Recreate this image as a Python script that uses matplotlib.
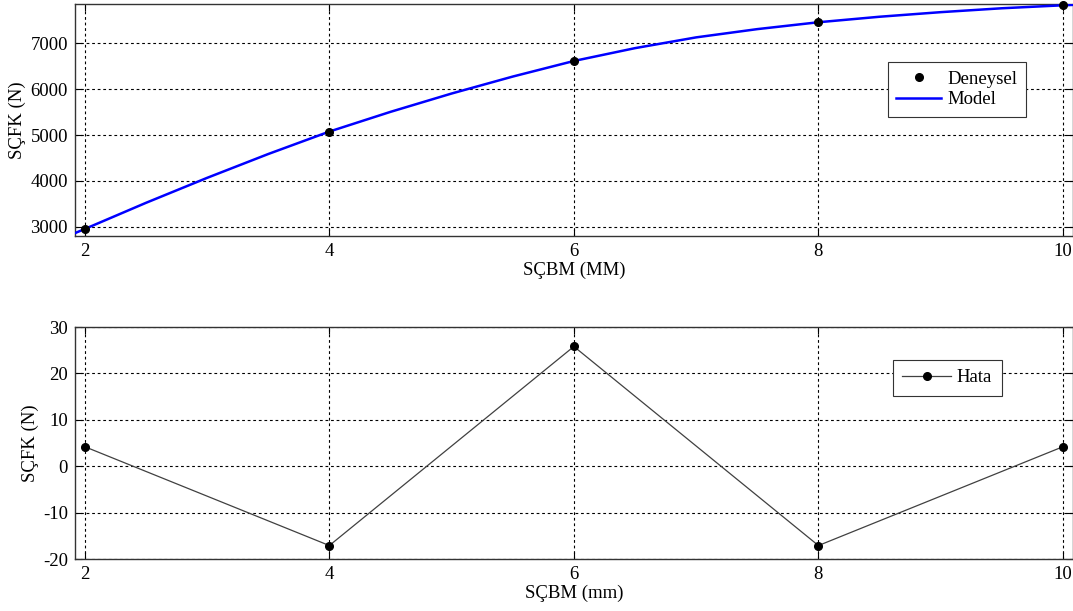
import matplotlib
matplotlib.use("Agg")
import matplotlib.pyplot as plt

# Data
exp_x = [2, 4, 6, 8, 10]
exp_y = [2950, 5075, 6615, 7460, 7830]
model_x = [1.92, 2, 2.5, 3, 3.5, 4, 4.5, 5, 5.5, 6, 6.5, 7, 7.5, 8, 8.5, 9, 9.5, 10, 10.1]
model_y = [2860, 2950, 3520, 4065, 4585, 5075, 5505, 5905, 6275, 6615, 6895, 7130, 7310, 7460, 7580, 7680, 7765, 7830, 7840]
err_x = [2, 4, 6, 8, 10]
err_y = [4.2, -17.1, 25.8, -17.1, 4.2]
xticks = [2, 4, 6, 8, 10]
top_yticks = [3000, 4000, 5000, 6000, 7000]
bot_yticks = [-20, -10, 0, 10, 20, 30]

plt.rcParams['font.family'] = ['Liberation Serif', 'DejaVu Serif']
plt.rcParams['font.size'] = 13.5
plt.rcParams['axes.unicode_minus'] = False

fig = plt.figure(figsize=(10.73, 6.11), dpi=100)
ax1 = fig.add_axes([75/1073, 1-236/611, 1-75/1073, 232/611])
ax2 = fig.add_axes([75/1073, 1-559/611, 1-75/1073, 232/611])

for ax in (ax1, ax2):
    ax.set_xlim(1.92, 10.082)
    ax.set_xticks(xticks)
    ax.grid(True, color='black', linestyle=(0, (2.5, 2.5)), linewidth=0.8)
    ax.tick_params(direction='in', top=True, right=True, length=5, width=0.8, pad=5)
    for s in ax.spines.values():
        s.set_color('#333333')
        s.set_linewidth(1.0)

ax1.plot(model_x, model_y, color='#0000ff', linewidth=1.8, label='Model', zorder=3)
ax1.plot(exp_x, exp_y, 'o', color='black', markersize=5.5, label='Deneysel', zorder=4, clip_on=False)
ax1.set_ylim(2797, 7858)
ax1.set_yticks(top_yticks)
ax1.set_xlabel('SÇBM (MM)', labelpad=1)
ax1.set_ylabel('SÇFK (N)', labelpad=3)
h, l = ax1.get_legend_handles_labels()
leg1 = ax1.legend([h[1], h[0]], [l[1], l[0]], loc='upper left', bbox_to_anchor=((888-75)/998, 1-(62-4)/232),
                  fancybox=False, edgecolor='#333333', framealpha=1, borderpad=0.45, handlelength=2.4,
                  handletextpad=0.3, labelspacing=0.2, borderaxespad=0)
leg1.get_frame().set_linewidth(0.8)

ax2.plot(err_x, err_y, '-o', color='#404040', linewidth=0.9, markersize=5.5,
         markerfacecolor='black', markeredgecolor='black', label='Hata', clip_on=False)
ax2.set_ylim(-20, 30)
ax2.set_yticks(bot_yticks)
ax2.set_xlabel('SÇBM (mm)', labelpad=1)
ax2.set_ylabel('SÇFK (N)', labelpad=3)
leg2 = ax2.legend(loc='upper left', bbox_to_anchor=((893-75)/998, 1-(360-327)/232),
                  fancybox=False, edgecolor='#333333', framealpha=1, borderpad=0.5, handlelength=2.6,
                  handletextpad=0.3, borderaxespad=0)
leg2.get_frame().set_linewidth(0.8)

fig.savefig('out.png', dpi=100)
